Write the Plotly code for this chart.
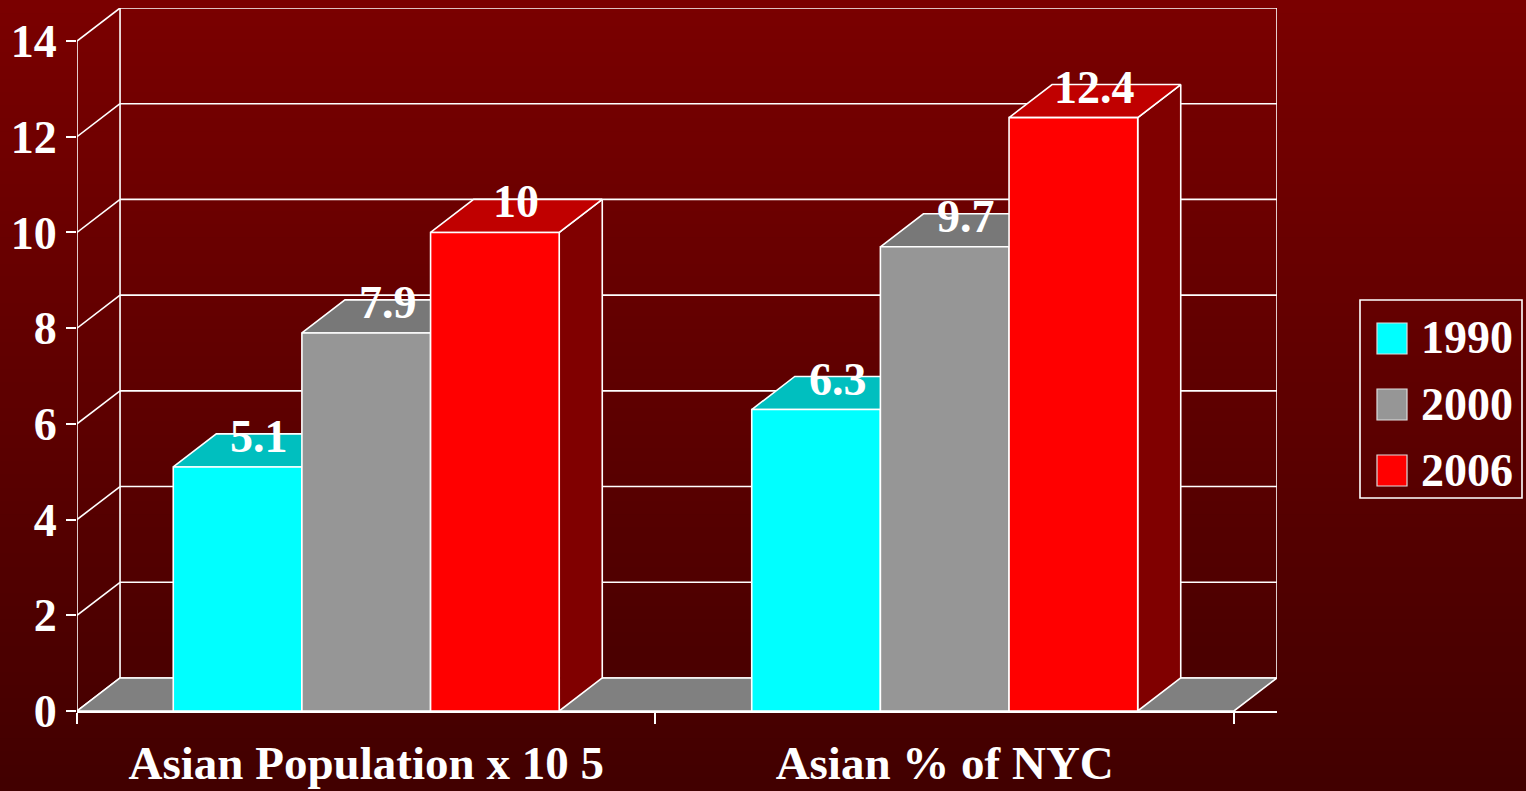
import plotly.graph_objects as go

# data
categories = ["Asian Population x 10 5", "Asian % of NYC"]
series_names = ["1990", "2000", "2006"]
values_1990 = [5.1, 6.3]
values_2000 = [7.9, 9.7]
values_2006 = [10, 12.4]
y_ticks = [0, 2, 4, 6, 8, 10, 12, 14]

series_values = [values_1990, values_2000, values_2006]
front_colors = ["#00FFFF", "#969696", "#FF0000"]
top_colors = ["#00BFBF", "#787878", "#C00000"]
side_colors = ["#008080", "#4B4B4B", "#800000"]

W, H = 1526, 791
ML, MR, MT, MB = 77, 249, 8, 80
PW, PH = W - ML - MR, H - MT - MB

Y_MAX = 14
DY = 0.69      # depth offset, y units
DX = 0.0744    # depth offset, x units (one category = 1)
BW = 0.2224    # bar width, x units
N = len(categories)
LINE = dict(color="white", width=1.6)
FONT = "Liberation Serif, Times New Roman, serif"


def px(x):
    return (x - ML) / PW


def py(y):
    return (H - MB - y) / PH


fig = go.Figure()


def face(xs, ys, color):
    fig.add_trace(go.Scatter(
        x=xs + [xs[0]], y=ys + [ys[0]], mode="lines", fill="toself",
        fillcolor=color, line=LINE, hoverinfo="skip", showlegend=False,
    ))


# floor
face([0, N, N + DX, DX], [0, 0, DY, DY], "#808080")

# bars: side, top, front, left to right so each front hides the previous side
annotations = []
for i in range(N):
    c = i + 0.5
    for j, vals in enumerate(series_values):
        v = vals[i]
        left = c - 1.5 * BW + j * BW
        right = left + BW
        face([right, right + DX, right + DX, right], [0, DY, v + DY, v], side_colors[j])
        face([left, right, right + DX, left + DX], [v, v, v + DY, v + DY], top_colors[j])
        face([left, right, right, left], [0, 0, v, v], front_colors[j])
        annotations.append(dict(
            x=left + BW / 2 + DX / 2, y=v + DY / 2, text=f"{v:g}", showarrow=False,
            xref="x", yref="y", yshift=14,
            font=dict(family=FONT, size=46, color="white", weight="bold"),
        ))

# background gradient + walls
shapes = []
bands = 60
top_r, bot_r = 0x7A, 0x42
for k in range(bands):
    t = k / (bands - 1)
    r = round(top_r + (bot_r - top_r) * t)
    shapes.append(dict(
        type="rect", xref="paper", yref="paper", layer="below",
        x0=px(0), x1=px(W), y0=py(H * (k + 1) / bands + 1), y1=py(H * k / bands),
        fillcolor=f"rgb({r},0,0)", line=dict(width=0),
    ))

for t in y_ticks:
    shapes.append(dict(type="line", xref="x", yref="y", layer="below",
                       x0=DX, x1=N + DX, y0=t + DY, y1=t + DY, line=LINE))
    shapes.append(dict(type="line", xref="x", yref="y", layer="below",
                       x0=0, x1=DX, y0=t, y1=t + DY, line=LINE))
for xw in [DX, N + DX]:
    shapes.append(dict(type="line", xref="x", yref="y", layer="below",
                       x0=xw, x1=xw, y0=DY, y1=Y_MAX + DY, line=LINE))
shapes.append(dict(type="line", xref="x", yref="y", layer="below",
                   x0=0, x1=0, y0=0, y1=Y_MAX, line=LINE))

# legend (drawn by hand so the swatches can be large)
shapes.append(dict(type="rect", xref="paper", yref="paper",
                   x0=px(1360), x1=px(1522), y0=py(498), y1=py(300),
                   line=dict(color="white", width=1.6), fillcolor="rgba(0,0,0,0)"))
for j, name in enumerate(series_names):
    top = 323 + j * 66
    shapes.append(dict(type="rect", xref="paper", yref="paper",
                       x0=px(1377), x1=px(1407), y0=py(top + 31), y1=py(top),
                       fillcolor=front_colors[j], line=dict(color="#DDDDDD", width=1.2)))
    annotations.append(dict(
        x=px(1419), y=py(top + 15), xref="paper", yref="paper", text=name,
        showarrow=False, xanchor="left", yanchor="middle",
        font=dict(family=FONT, size=46, color="white", weight="bold"),
    ))

fig.update_layout(
    width=W, height=H,
    margin=dict(l=ML, r=MR, t=MT, b=MB, autoexpand=False),
    paper_bgcolor="#5E0000",
    plot_bgcolor="rgba(0,0,0,0)",
    showlegend=False,
    shapes=shapes,
    annotations=annotations,
    font=dict(family=FONT, color="white", size=46),
)
fig.update_xaxes(
    range=[0, N + DX], showgrid=False, zeroline=False, showline=True,
    linecolor="white", linewidth=1.6, automargin=False,
    tickvals=[i + 0.5 for i in range(N)], ticktext=categories, ticks="",
    ticklabelstandoff=10,
    tickfont=dict(family=FONT, size=47, color="white", weight="bold"),
    minor=dict(tickvals=list(range(N + 1)), ticks="outside", ticklen=11,
               tickcolor="white", tickwidth=1.6, showgrid=False),
)
fig.update_yaxes(
    range=[0, Y_MAX + DY], showgrid=False, zeroline=False, showline=False,
    automargin=False,
    tickvals=y_ticks, ticks="outside", ticklen=10, tickcolor="white", tickwidth=1.6,
    tickfont=dict(family=FONT, size=46, color="white", weight="bold"),
)

fig.write_html("out.html", config={"displayModeBar": False},
               post_script="document.body.style.margin='0';")
